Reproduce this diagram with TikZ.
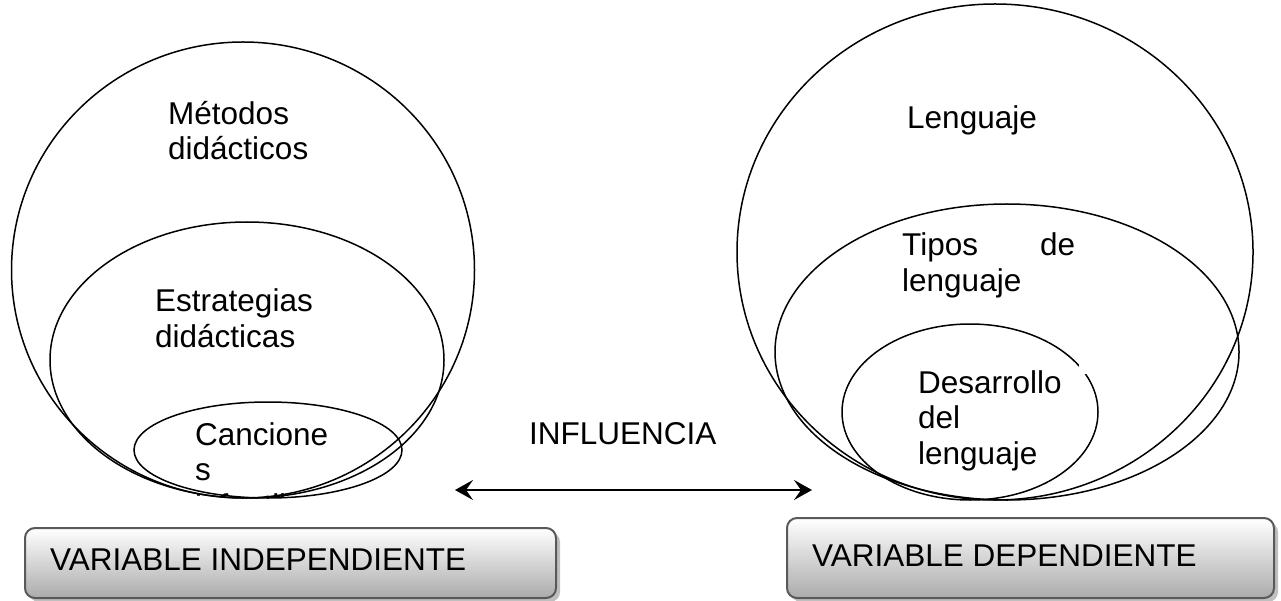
\documentclass[tikz,border=0pt]{standalone}
\usepackage{fontspec}
\setmainfont{Liberation Sans}
\usetikzlibrary{shapes.geometric,arrows.meta,shadows,positioning}
\tikzset{ring/.style = {ellipse, draw, inner sep = 0pt, line width = 1.5pt}}
\tikzset{word/.style = {anchor = base west, inner sep = 0pt, align = left, font = \fontsize{31.5}{35.5}\selectfont}}
\tikzset{varbox/.style = {rounded corners = 10pt, draw = black!65, line width = 2pt, top color = white, bottom color = black!33, drop shadow = {shadow xshift = 4pt, shadow yshift = -4pt, fill = black!25, opacity = 1}}}

\begin{document}
\begin{tikzpicture}[x=1pt, y=-1pt]
	\useasboundingbox (0,0) rectangle (1281,601);
	% independiente
	\node [ring, minimum width = 463, minimum height = 456] (metodos) at (243, 270) {};
	\node [ring, minimum width = 394, minimum height = 276] (estrategias) at (247, 360) {};
	\node [ring, minimum width = 268, minimum height = 96] (canciones) at (268, 450) {};
	\node [word] (tmetodos) at (168, 160) {Métodos\\didácticos};
	\node [word] (testrategias) at (155, 347) {Estrategias\\didácticas};
	\begin{scope}
		\clip (120, 400) rectangle (420, 497);
		\node [word] (tcanciones) at (195, 516) {Cancione\\s\\infantiles};
	\end{scope}
	% dependiente
	\node [ring, minimum width = 516, minimum height = 496] (lenguaje) at (995, 252) {};
	\node [ring, minimum width = 464, minimum height = 296] (tipos) at (1007, 352) {};
	\node [ring, minimum width = 256, minimum height = 176] (desarrollo) at (970, 412) {};
	\fill [white] (1079, 362) rectangle (1087, 374);
	\node [word] (tlenguaje) at (907, 129) {Lenguaje};
	\node [word, text width = 173pt] (ttipos) at (902, 256) {Tipos\hfill de\\lenguaje};
	\node [word] (tdesarrollo) at (918, 464) {Desarrollo\\del\\lenguaje};
	% influencia
	\node [word] (influencia) at (529, 444) {INFLUENCIA};
	\coordinate (izq) at (455, 490);
	\coordinate (der) at (812, 490);
	\draw [line width = 2pt, {Stealth[length = 18pt, width = 20pt, inset = 7pt]}-{Stealth[length = 18pt, width = 20pt, inset = 7pt]}] (izq) -- (der);
	% variables
	\node [varbox, minimum width = 531, minimum height = 70, anchor = north west] (vi) at (24, 527) {};
	\node [word] (tvi) at (50, 570) {VARIABLE INDEPENDIENTE};
	\node [varbox, minimum width = 487, minimum height = 80, anchor = north west] (vd) at (786, 517) {};
	\node [word] (tvd) at (812, 566) {VARIABLE DEPENDIENTE};
\end{tikzpicture}
\end{document}
